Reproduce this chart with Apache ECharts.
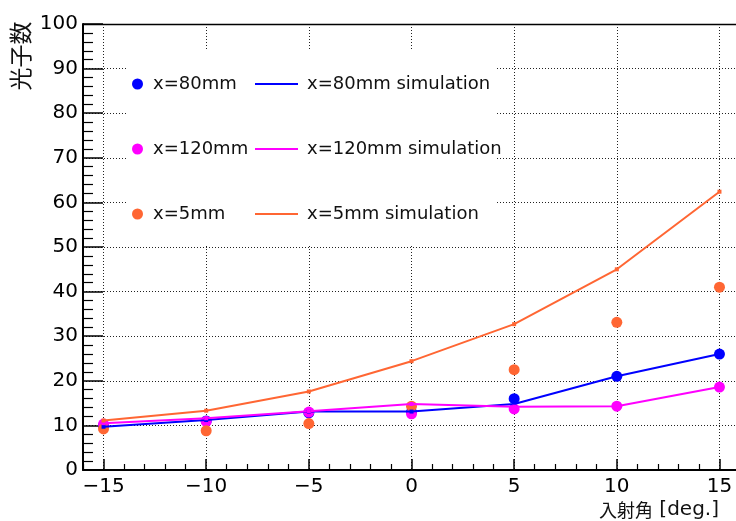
<!DOCTYPE html>
<html>
<head>
<meta charset="utf-8">
<script src="https://cdn.jsdelivr.net/npm/echarts@6/dist/echarts.min.js"></script>
<style>
  html, body { margin: 0; padding: 0; background: #fff; }
  #chart { width: 736px; height: 521px; }
</style>
</head>
<body>
<div id="chart"></div>
<script>
// Incident angle [deg.]
const angles = [-15, -10, -5, 0, 5, 10, 15];

// Measured photon counts
const meas80 = [10.0, 11.0, 12.8, 13.0, 16.0, 21.0, 26.0];
const meas120 = [10.3, 10.9, 13.0, 12.6, 13.7, 14.3, 18.6];
const meas5 = [9.2, 8.8, 10.4, 14.3, 22.5, 33.1, 41.0];

// Simulated photon counts
const sim80 = [9.7, 11.2, 13.1, 13.1, 14.8, 21.0, 26.0];
const sim120 = [10.5, 11.6, 13.2, 14.8, 14.2, 14.3, 18.6];
const sim5 = [11.1, 13.3, 17.6, 24.4, 32.7, 45.0, 62.4];

// Axis ticks
const xMajorTicks = [-15, -10, -5, 0, 5, 10, 15];
const xMinorTicks = [];
for (let v = -16; v <= 16; v++) if (v % 5 !== 0) xMinorTicks.push(v);

const names = {
  m80: 'x=80mm', m120: 'x=120mm', m5: 'x=5mm',
  s80: 'x=80mm simulation', s120: 'x=120mm simulation', s5: 'x=5mm simulation'
};
const BLUE = '#0000ff', MAGENTA = '#ff00ff', ORANGE = '#ff6633';

const pairs = (ys) => angles.map((x, i) => [x, ys[i]]);
const FONT = 'DejaVu Sans';
const gridDots = { color: '#222', width: 1, type: [1, 2] };

function scatter(name, ys, color) {
  return {
    name, type: 'scatter', data: pairs(ys), symbol: 'circle', symbolSize: 11,
    itemStyle: { color, opacity: 1 }, z: 2, silent: true
  };
}
function simLine(name, ys, color) {
  return {
    name, type: 'line', data: pairs(ys), smooth: false,
    symbol: 'rect', symbolSize: 4, showSymbol: true,
    itemStyle: { color, opacity: 1 }, lineStyle: { color, width: 2 }, z: 3, silent: true
  };
}

const legendText = { fontFamily: FONT, fontSize: 18, color: '#111', lineHeight: 18 };
function dotLegend(name, top) {
  return {
    left: 132, top, padding: 0, selectedMode: false,
    itemWidth: 21, itemHeight: 11,
    data: [{ name, icon: 'circle', itemStyle: { opacity: 1 } }], textStyle: legendText
  };
}
function lineLegend(name, top) {
  return {
    left: 255, top, padding: 0, selectedMode: false,
    itemWidth: 43, itemHeight: 2,
    data: [{ name, icon: 'rect' }],
    textStyle: Object.assign({ padding: [0, 0, 0, 4] }, legendText)
  };
}

const chart = echarts.init(document.getElementById('chart'), null, { renderer: 'canvas' });
chart.setOption({
  animation: false,
  backgroundColor: '#fff',
  grid: { left: 83, top: 24, width: 657, height: 446, containLabel: false, outerBoundsMode: 'none' },
  xAxis: [
    {
      type: 'value', min: -16, max: 16, position: 'bottom',
      axisLine: { show: true, onZero: false, lineStyle: { color: '#000', width: 2 } },
      axisTick: { show: true, inside: true, length: 11, customValues: xMajorTicks, lineStyle: { color: '#000', width: 1.5 } },
      axisLabel: {
        show: true, customValues: xMajorTicks, margin: 7,
        fontFamily: FONT, fontSize: 20, color: '#000',
        formatter: (v) => String(v).replace('-', '\u2212')
      },
      splitLine: { show: true, lineStyle: gridDots }
    },
    {
      type: 'value', min: -16, max: 16, position: 'bottom', gridIndex: 0,
      axisLine: { show: false, onZero: false },
      axisTick: { show: true, inside: true, length: 6, customValues: xMinorTicks, lineStyle: { color: '#000', width: 1.2 } },
      axisLabel: { show: false },
      splitLine: { show: false }
    },
    {
      type: 'value', min: -16, max: 16, position: 'top', gridIndex: 0,
      axisLine: { show: true, onZero: false, lineStyle: { color: '#000', width: 1.3 } },
      axisTick: { show: false }, axisLabel: { show: false }, splitLine: { show: false }
    }
  ],
  yAxis: {
    type: 'value', min: 0, max: 100, interval: 10,
    axisLine: { show: true, onZero: false, lineStyle: { color: '#000', width: 2 } },
    axisTick: { show: true, inside: true, length: 20, lineStyle: { color: '#000', width: 1.5 } },
    minorTick: { show: true, splitNumber: 5, length: 10, lineStyle: { color: '#000', width: 1.2 } },
    axisLabel: { margin: 5, fontFamily: FONT, fontSize: 20, color: '#000' },
    splitLine: { show: true, lineStyle: gridDots }
  },
  legend: [
    dotLegend(names.m80, 75), lineLegend(names.s80, 75),
    dotLegend(names.m120, 140), lineLegend(names.s120, 140),
    dotLegend(names.m5, 205), lineLegend(names.s5, 205)
  ],
  graphic: [
    {
      type: 'rect', z: 1, silent: true,
      shape: { x: 126, y: 51, width: 369, height: 195 },
      style: { fill: '#fff' }
    },
    {
      type: 'text', x: 20, y: 56, rotation: Math.PI / 2, silent: true,
      style: {
        text: '光子数', align: 'center', verticalAlign: 'middle',
        font: '23px "Noto Sans CJK JP"', fill: '#111'
      }
    },
    {
      type: 'text', x: 719, y: 500, silent: true,
      style: {
        text: '{c|入射角}{l| [deg.]}', align: 'right', verticalAlign: 'top',
        fill: '#111',
        rich: {
          c: { fontFamily: 'Noto Sans CJK JP', fontSize: 18, fill: '#111' },
          l: { fontFamily: FONT, fontSize: 20, fill: '#111' }
        }
      }
    }
  ],
  series: [
    scatter(names.m80, meas80, BLUE),
    scatter(names.m120, meas120, MAGENTA),
    scatter(names.m5, meas5, ORANGE),
    simLine(names.s80, sim80, BLUE),
    simLine(names.s120, sim120, MAGENTA),
    simLine(names.s5, sim5, ORANGE)
  ]
});
</script>
</body>
</html>
